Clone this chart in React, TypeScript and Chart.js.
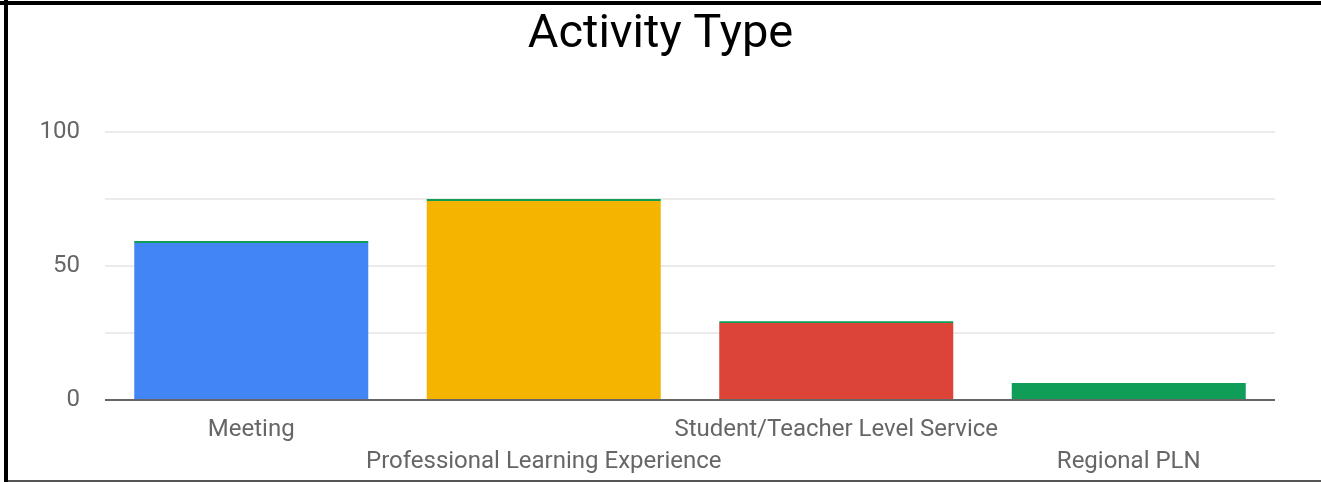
import React, { useEffect, useRef } from "react";
import { Chart, registerables } from "chart.js";

Chart.register(...registerables);

const categories: (string | string[])[] = [
  ["Meeting", ""],
  ["", "Professional Learning Experience"],
  ["Student/Teacher Level Service", ""],
  ["", "Regional PLN"],
];
const activityCounts = [58.6, 74.3, 28.7, 6.3];
const otherCounts = [0.7, 0.7, 0.7, 0];
const barColors = ["#4285F4", "#F4B400", "#DB4437", "#0F9D58"];
const otherColor = "#0F9D58";
const yTickLabels: Record<number, string> = { 0: "0", 50: "50", 100: "100" };

export default function App() {
  const canvasRef = useRef<HTMLCanvasElement>(null);

  useEffect(() => {
    document.body.style.margin = "0";
    const chart = new Chart(canvasRef.current!, {
      type: "bar",
      data: {
        labels: categories,
        datasets: [
          {
            label: "Activity",
            data: activityCounts,
            backgroundColor: barColors,
            categoryPercentage: 0.8,
            barPercentage: 1,
          },
          {
            label: "Other",
            data: otherCounts,
            backgroundColor: otherColor,
            categoryPercentage: 0.8,
            barPercentage: 1,
          },
        ],
      },
      options: {
        animation: false,
        responsive: true,
        maintainAspectRatio: false,
        layout: { padding: 0 },
        plugins: {
          legend: { display: false },
          tooltip: { enabled: false },
          title: {
            display: true,
            text: "Activity Type",
            color: "#000",
            font: { family: "Roboto", size: 47, weight: "normal", lineHeight: 1.2 },
            padding: { top: 7, bottom: 132 - 7 - 47 * 1.2 },
          },
        },
        scales: {
          x: {
            stacked: true,
            grid: { display: false, drawTicks: false },
            border: { display: false },
            ticks: {
              autoSkip: false,
              maxRotation: 0,
              minRotation: 0,
              padding: 14,
              color: "#666",
              font: { family: "Roboto", size: 24, lineHeight: 32 / 24 },
            },
            afterFit: (scale: any) => {
              scale.height = 82;
            },
          },
          y: {
            stacked: true,
            min: 0,
            max: 100,
            border: { display: false },
            grid: {
              drawTicks: false,
              lineWidth: 2,
              color: (ctx: any) => (ctx.tick && ctx.tick.value === 0 ? "#666666" : "#ebebeb"),
            },
            ticks: {
              stepSize: 25,
              padding: 25,
              color: "#666",
              font: { family: "Roboto", size: 24 },
              callback: (v: any) => yTickLabels[Number(v)] ?? "",
            },
            afterFit: (scale: any) => {
              scale.width = 105;
            },
          },
          yRight: {
            position: "right",
            display: true,
            min: 0,
            max: 100,
            grid: { display: false, drawTicks: false },
            border: { display: false },
            ticks: { display: false },
            afterFit: (scale: any) => {
              scale.width = 46;
            },
          },
        },
      },
    });
    return () => chart.destroy();
  }, []);

  return (
    <div style={{ position: "relative", width: 1321, height: 482, background: "#fff", overflow: "hidden" }}>
      <canvas ref={canvasRef} />
      <div style={{ position: "absolute", left: 0, top: 1, width: 1321, height: 4, background: "#000" }} />
      <div style={{ position: "absolute", left: 4, top: 0, width: 4, height: 482, background: "#000" }} />
      <div style={{ position: "absolute", left: 8, top: 480, width: 1313, height: 2, background: "#555" }} />
    </div>
  );
}
